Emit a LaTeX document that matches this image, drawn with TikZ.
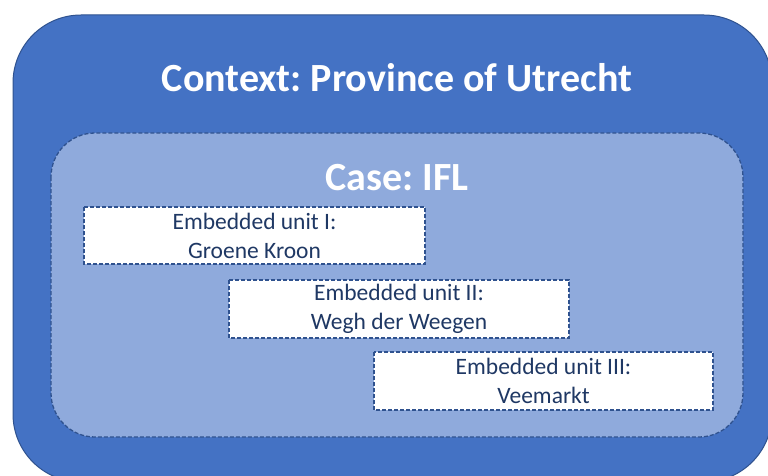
\documentclass[tikz,border=0pt]{standalone}
\usepackage{fontspec}
\setmainfont{Carlito}
\frenchspacing
\definecolor{outerfill}{HTML}{4472C4}
\definecolor{outerline}{HTML}{2F528F}
\definecolor{innerfill}{HTML}{8FAADC}
\definecolor{textblue}{HTML}{1F3864}
\tikzset{
  outerbox/.style={fill=outerfill,draw=outerline,line width=1pt,rounded corners=68pt},
  innerbox/.style={fill=innerfill,draw=outerline,line width=1.3pt,dash pattern=on 4pt off 2pt,rounded corners=44pt},
  unitbox/.style={fill=white,draw=outerline,line width=1.3pt,dash pattern=on 4pt off 2pt},
  unittext/.style={text=textblue,font=\fontsize{23.5}{29}\selectfont,align=center},
  titletext/.style={text=white,font=\fontsize{40}{44}\selectfont\bfseries}
}
\begin{document}
\frenchspacing
\begin{tikzpicture}[x=1pt,y=-1pt]
\useasboundingbox (0,0) rectangle (768,476);
\clip (0,0) rectangle (768,476);
\draw[outerbox] (13,15) rectangle (772,482);
\draw[innerbox] (51,133) rectangle (743,437);
\node[titletext] (context) at (397,78) {Context: Province of Utrecht};
\node[titletext] (case) at (397,178) {Case: IFL};
\draw[unitbox] (84,207) rectangle (425,264);
\node[unittext] (u1) at (254.5,235.5) {Embedded unit I:\\Groene Kroon};
\draw[unitbox] (229,280) rectangle (569,338);
\node[unittext] (u2) at (399,309) {Embedded unit II:\\Wegh der Weegen};
\draw[unitbox] (374,352) rectangle (713,410);
\node[unittext] (u3) at (543.5,381) {Embedded unit III:\\Veemarkt};
\end{tikzpicture}
\end{document}
